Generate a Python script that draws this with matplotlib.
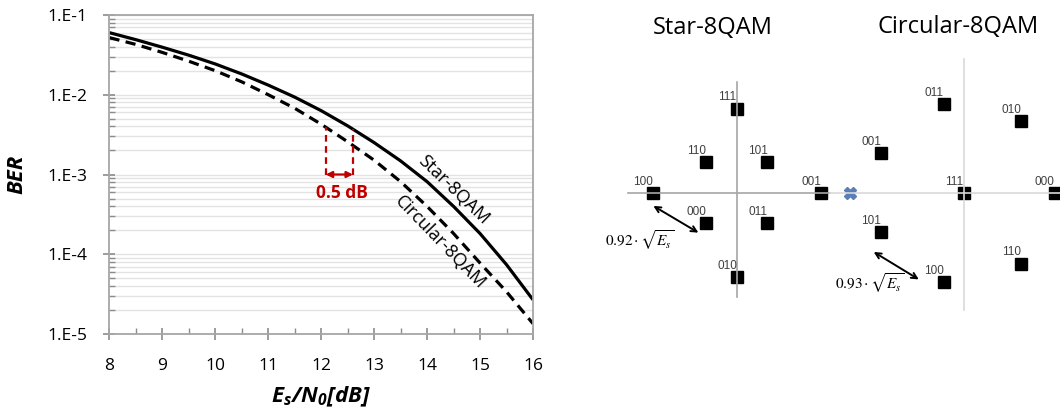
import numpy as np
import matplotlib
matplotlib.use("Agg")
import matplotlib.pyplot as plt
from matplotlib.ticker import FixedLocator, MultipleLocator, NullFormatter

plt.rcParams['font.family'] = ['Open Sans', 'DejaVu Sans']
plt.rcParams['mathtext.fontset'] = 'stix'
# custom math font, only used by the x label
plt.rcParams['mathtext.bfit'] = 'Open Sans:italic:bold'
plt.rcParams['mathtext.rm'] = 'Open Sans:italic:bold'
plt.rcParams['mathtext.it'] = 'Open Sans:italic:bold'

# BER curves
esn0 = [8, 8.5, 9, 9.5, 10, 10.5, 11, 11.5, 12, 12.5, 13, 13.5, 14, 14.5, 15, 15.5, 16]
ber_star = [0.0600, 0.0490, 0.0394, 0.0313, 0.0243, 0.0182, 0.0132, 0.00933, 0.00631,
            0.00407, 0.00251, 0.00148, 0.000813, 0.000398, 0.000182, 0.0000741, 0.0000269]
ber_circ = [0.0520, 0.0427, 0.0339, 0.0263, 0.0200, 0.0145, 0.0100, 0.00676, 0.00427,
            0.00257, 0.00151, 0.000813, 0.000398, 0.000182, 0.0000776, 0.0000339, 0.0000135]
y_ticks = [1e-5, 1e-4, 1e-3, 1e-2, 1e-1]
y_ticklabels = ['1.E-5', '1.E-4', '1.E-3', '1.E-2', '1.E-1']

# 0.5 dB gap marker
gap_x = [12.085, 12.6]
gap_top = [0.0039, 0.0037]
gap_bottom = 1e-3

# constellations (units: star outer radius = 1)
star_bits = ['111', '110', '101', '100', '001', '000', '011', '010']
star_x = [0, -0.365, 0.365, -1.0, 1.0, -0.365, 0.365, 0]
star_y = [1.0, 0.365, 0.365, 0, 0, -0.365, -0.365, -1.0]

circ_bits = ['011', '010', '001', '111', '000', '101', '110', '100']
circ_x = [-0.24, 0.68, -0.99, 0, 1.08, -0.99, 0.68, -0.24]
circ_y = [1.06, 0.86, 0.48, 0, 0, -0.47, -0.84, -1.06]

fig = plt.figure(figsize=(10.6, 4.12), dpi=100)

# ---- BER plot ----
ax = fig.add_axes([0.1033, 0.1893, 0.3995, 0.7743])
ax.plot(esn0, ber_star, color='black', lw=2.3, solid_capstyle='butt')
ax.plot(esn0, ber_circ, color='black', lw=2.3, linestyle=(0, (3.2, 2.0)))
ax.set_yscale('log')
ax.set_xlim(8, 16)
ax.set_ylim(1e-5, 1e-1)
ax.yaxis.set_major_locator(FixedLocator(y_ticks))
ax.set_yticklabels(y_ticklabels)
ax.yaxis.set_minor_formatter(NullFormatter())
ax.xaxis.set_major_locator(MultipleLocator(1))
ax.xaxis.set_minor_locator(MultipleLocator(0.5))
ax.grid(True, which='both', axis='y', color='#e3e3e3', lw=1.0)
ax.set_axisbelow(True)
for s in ax.spines.values():
    s.set_color('#a6a6a6')
    s.set_linewidth(1.3)
ax.tick_params(which='major', direction='inout', length=8, color='#8c8c8c', width=1.2,
               labelsize=12.5)
ax.tick_params(which='minor', direction='in', length=4, color='#8c8c8c', width=1.0)
ax.tick_params(axis='x', which='major', pad=13)
ax.tick_params(axis='y', which='major', pad=12)

ax.set_xlabel(r'$\mathbfit{E_s/N_0[dB]}$', fontsize=16, math_fontfamily='custom', va='center')
ax.xaxis.set_label_coords(0.5, -0.196)
ax.set_ylabel('BER', fontsize=16, fontweight='bold', style='italic', va='center')
ax.yaxis.set_label_coords(-0.219, 0.50)

red = '#c00000'
for gx, gt in zip(gap_x, gap_top):
    ax.plot([gx, gx], [gap_bottom, gt], color=red, lw=1.6, linestyle=(0, (3, 2)))
ax.annotate('', xy=(gap_x[0], gap_bottom), xytext=(gap_x[1], gap_bottom),
            arrowprops=dict(arrowstyle='<|-|>', color=red, lw=1.6, mutation_scale=9,
                            shrinkA=0, shrinkB=0))
ax.text(12.40, 5.9e-4, '0.5 dB', color=red, fontsize=12.5, fontweight='bold', ha='center', va='center')
ax.text(14.49, 6.4e-4, 'Star-8QAM', fontsize=13, rotation=-44, ha='center', va='center',
        rotation_mode='anchor')
ax.text(14.24, 1.40e-4, 'Circular-8QAM', fontsize=13, rotation=-46, ha='center', va='center',
        rotation_mode='anchor')

# ---- constellation helper ----
def constellation(rect, xlim, ylim, xs, ys, bits, axis_color):
    cax = fig.add_axes(rect)
    cax.set_xlim(*xlim)
    cax.set_ylim(*ylim)
    cax.set_aspect('equal')
    cax.patch.set_visible(False)
    for side in ['top', 'right']:
        cax.spines[side].set_visible(False)
    cax.spines['left'].set_position('zero')
    cax.spines['bottom'].set_position('zero')
    for side in ['left', 'bottom']:
        cax.spines[side].set_color(axis_color)
        cax.spines[side].set_linewidth(1.2)
    cax.set_xticks([])
    cax.set_yticks([])
    cax.plot(xs, ys, 's', color='black', markersize=8.5, linestyle='none', clip_on=False)
    for x, y, b in zip(xs, ys, bits):
        cax.annotate(b, (x, y), xytext=(-7, 8), textcoords='offset points',
                     fontsize=8.5, color='#404040', ha='center', va='center',
                     family=['Liberation Sans', 'DejaVu Sans'])
    return cax

sax = constellation([0.5925, 0.2799, 0.1906, 0.5218], (-1.294, 1.11), (-1.238, 1.32),
                    star_x, star_y, star_bits, '#a6a6a6')
sax.annotate('', xy=(-0.993, -0.158), xytext=(-0.457, -0.476),
             arrowprops=dict(arrowstyle='<->', color='black', lw=1.4, shrinkA=0, shrinkB=0))
sax.text(-1.151, -0.563, r'$0.92\cdot\sqrt{E_s}$', fontsize=11, ha='center', va='center')

cax = constellation([0.783, 0.2476, 0.217, 0.609], (-1.595, 1.143), (-1.393, 1.595),
                    circ_x, circ_y, circ_bits, '#d9d9d9')
cax.plot([-1.36], [0], 'X', color='#5b7fb5', markersize=8)
cax.annotate('', xy=(-1.075, -0.702), xytext=(-0.538, -1.029),
             arrowprops=dict(arrowstyle='<->', color='black', lw=1.4, shrinkA=0, shrinkB=0))
cax.text(-1.123, -1.075, r'$0.93\cdot\sqrt{E_s}$', fontsize=11, ha='center', va='center')

fig.text(713 / 1060, 1 - 28 / 412, 'Star-8QAM', fontsize=17, ha='center', va='center')
fig.text(958 / 1060, 1 - 27 / 412, 'Circular-8QAM', fontsize=17, ha='center', va='center')

fig.savefig('out.png', dpi=100)
